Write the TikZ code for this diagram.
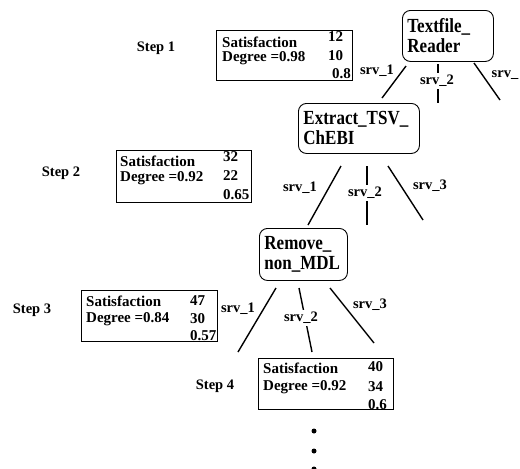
\documentclass[tikz,border=0pt]{standalone}
\usepackage{fontspec}
\setmainfont{Liberation Serif}
\newfontfamily\nodefont[FakeStretch=0.85]{Liberation Serif}
\begin{document}
\begin{tikzpicture}[x=1pt,y=-1pt,
  txt/.style={inner sep=0pt, anchor=west, font=\fontsize{15}{17}\selectfont\bfseries},
  steplbl/.style={inner sep=0pt, font=\fontsize{14.5}{16}\selectfont\bfseries},
  srvlbl/.style={inner sep=0.5pt, font=\fontsize{14.5}{16}\selectfont\bfseries},
  gaplbl/.style={srvlbl, fill=white, inner ysep=2pt},
  sbox/.style={draw, line width=0.9pt, inner sep=0pt, anchor=north west},
  svc/.style={draw, rounded corners=8pt, line width=0.9pt, align=left, inner xsep=5pt, inner ysep=0pt,
     anchor=north west, font=\nodefont\fontsize{20}{20}\selectfont\bfseries},
  edge/.style={line width=1.4pt},
  dotm/.style={circle, fill, inner sep=0pt, minimum size=5pt}
]
\useasboundingbox[fill=white] (0,0) rectangle (520,469);

% service nodes
\node[svc, text width=81pt, minimum height=51pt] (tr) at (402,10) {Textfile\_\\Reader};
\node[svc, text width=111pt, minimum height=50pt] (ex) at (298,103) {Extract\_TSV\_\\ChEBI};
\node[svc, text width=78pt, minimum height=52pt] (rm) at (259,228) {Remove\_\\non\_MDL};

% step labels
\node[steplbl] (s1) at (156,48) {Step 1};
\node[steplbl] (s2) at (61,173) {Step 2};
\node[steplbl] (s3) at (32,310) {Step 3};
\node[steplbl] (s4) at (215,386) {Step 4};

% satisfaction boxes
\node[sbox, minimum width=136pt, minimum height=50pt] (b1) at (216,30) {};
\node[txt] (b1a) at (222,42) {Satisfaction};
\node[txt] (b1b) at (222,58) {Degree =0.98};
\node[txt] (b1c) at (328,37) {12};
\node[txt] (b1d) at (328,56) {10};
\node[txt] (b1e) at (332,74) {0.8};

\node[sbox, minimum width=135pt, minimum height=52pt] (b2) at (116,150) {};
\node[txt] (b2a) at (120,161) {Satisfaction};
\node[txt] (b2b) at (120,178) {Degree =0.92};
\node[txt] (b2c) at (223,157) {32};
\node[txt] (b2d) at (223,176) {22};
\node[txt] (b2e) at (223,195) {0.65};

\node[sbox, minimum width=136pt, minimum height=51pt] (b3) at (81,290) {};
\node[txt] (b3a) at (86,301) {Satisfaction};
\node[txt] (b3b) at (86,319) {Degree =0.84};
\node[txt] (b3c) at (190,301) {47};
\node[txt] (b3d) at (190,319) {30};
\node[txt] (b3e) at (190,336) {0.57};

\node[sbox, minimum width=135pt, minimum height=51pt] (b4) at (258,358) {};
\node[txt] (b4a) at (263,368) {Satisfaction};
\node[txt] (b4b) at (263,387) {Degree =0.92};
\node[txt] (b4c) at (368,367) {40};
\node[txt] (b4d) at (368,387) {34};
\node[txt] (b4e) at (368,405) {0.6};

% connector end points
\coordinate (t1s) at (406,66);  \coordinate (t1e) at (382,98);
\coordinate (t2s) at (438,64);  \coordinate (t2e) at (438,103);
\coordinate (t3s) at (474,63);  \coordinate (t3e) at (500,100);
\coordinate (e1s) at (341,166); \coordinate (e1e) at (308,225);
\coordinate (e2s) at (367,166); \coordinate (e2e) at (367,225);
\coordinate (e3s) at (388,166); \coordinate (e3e) at (423,220);
\coordinate (r1s) at (276,288); \coordinate (r1e) at (238,352);
\coordinate (r2s) at (299,288); \coordinate (r2e) at (312,352);
\coordinate (r3s) at (330,288); \coordinate (r3e) at (374,343);

\draw[edge] (t1s) -- (t1e);
\draw[edge] (t2s) -- (t2e);
\draw[edge] (t3s) -- (t3e);
\draw[edge] (e1s) -- (e1e);
\draw[edge] (e2s) -- (e2e);
\draw[edge] (e3s) -- (e3e);
\draw[edge] (r1s) -- (r1e);
\draw[edge] (r2s) -- (r2e);
\draw[edge] (r3s) -- (r3e);

% connector labels
\node[srvlbl] (lt1) at (377,71) {srv\_1};
\node[gaplbl] (lt2) at (437,81) {srv\_2};
\node[srvlbl, anchor=west] (lt3) at (491,75) {srv\_};
\node[srvlbl] (le1) at (300,188) {srv\_1};
\node[gaplbl] (le2) at (365,193) {srv\_2};
\node[srvlbl] (le3) at (430,186) {srv\_3};
\node[srvlbl] (lr1) at (238,309) {srv\_1};
\node[gaplbl] (lr2) at (301,318) {srv\_2};
\node[srvlbl] (lr3) at (370,305) {srv\_3};

% continuation dots
\node[dotm] (d1) at (314,431) {};
\node[dotm] (d2) at (314,451) {};
\node[dotm] (d3) at (314,469) {};
\end{tikzpicture}
\end{document}
